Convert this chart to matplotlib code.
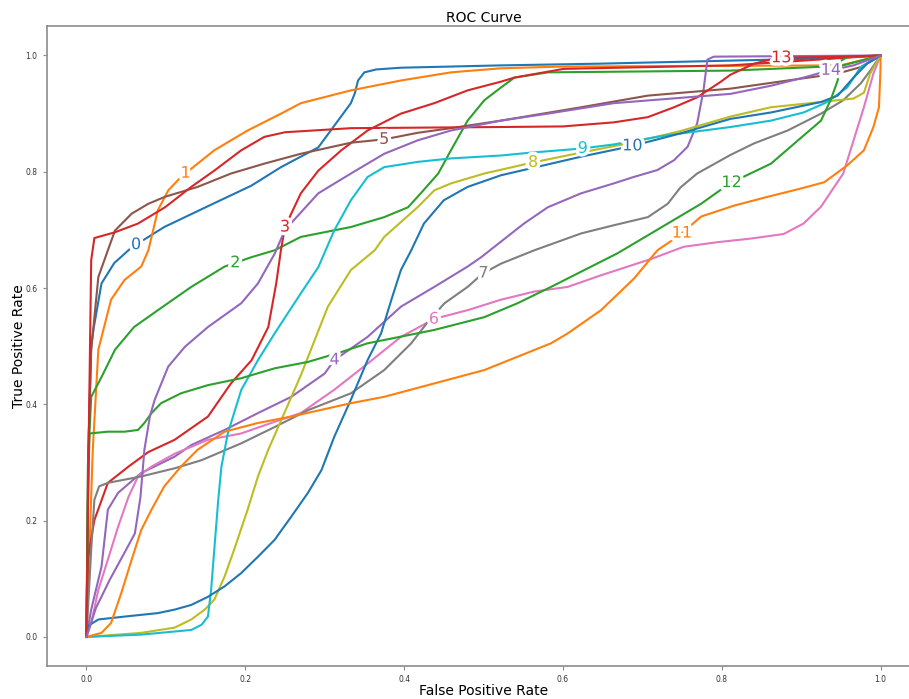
import numpy as np
import matplotlib
matplotlib.use("Agg")
import matplotlib.pyplot as plt
import matplotlib.patheffects as pe

# ROC curves (false positive rate, true positive rate) for classes 0..14
fpr_0 = [0, 0.003, 0.006, 0.009, 0.019, 0.035, 0.057, 0.098, 0.161, 0.2075, 0.245, 0.292, 0.333, 0.338, 0.342, 0.350, 0.365, 0.396, 0.522, 0.648, 0.9, 1.0]
tpr_0 = [0, 0.35, 0.50, 0.53, 0.608, 0.643, 0.670, 0.705, 0.746, 0.776, 0.808, 0.842, 0.918, 0.935, 0.957, 0.971, 0.976, 0.979, 0.983, 0.986, 0.994, 1.0]

fpr_1 = [0, 0.003, 0.008, 0.015, 0.031, 0.048, 0.069, 0.078, 0.090, 0.103, 0.119, 0.161, 0.203, 0.245, 0.270, 0.333, 0.396, 0.459, 0.522, 0.6, 0.95, 1.0]
tpr_1 = [0, 0.12, 0.322, 0.494, 0.580, 0.614, 0.637, 0.665, 0.734, 0.768, 0.791, 0.837, 0.871, 0.900, 0.918, 0.940, 0.957, 0.971, 0.978, 0.981, 0.983, 1.0]

fpr_2 = [0, 0.002, 0.006, 0.019, 0.036, 0.060, 0.090, 0.132, 0.174, 0.2075, 0.237, 0.270, 0.333, 0.375, 0.405, 0.421, 0.443, 0.459, 0.480, 0.501, 0.522, 0.539, 0.581, 0.811, 0.95, 1.0]
tpr_2 = [0, 0.30, 0.413, 0.447, 0.494, 0.533, 0.562, 0.602, 0.637, 0.653, 0.665, 0.688, 0.705, 0.722, 0.739, 0.763, 0.797, 0.837, 0.888, 0.923, 0.945, 0.962, 0.971, 0.974, 0.982, 1.0]

fpr_3 = [0, 0.002, 0.010, 0.027, 0.053, 0.078, 0.111, 0.153, 0.182, 0.208, 0.229, 0.239, 0.245, 0.25, 0.270, 0.292, 0.321, 0.354, 0.396, 0.438, 0.480, 0.522, 0.539, 0.601, 0.811, 1.0]
tpr_3 = [0, 0.137, 0.201, 0.265, 0.293, 0.318, 0.339, 0.379, 0.436, 0.476, 0.533, 0.608, 0.666, 0.705, 0.763, 0.802, 0.837, 0.871, 0.900, 0.918, 0.940, 0.955, 0.962, 0.977, 0.983, 1.0]

fpr_4 = [0, 0.006, 0.019, 0.027, 0.040, 0.069, 0.111, 0.132, 0.174, 0.216, 0.258, 0.3, 0.312, 0.354, 0.396, 0.438, 0.480, 0.497, 0.551, 0.581, 0.623, 0.664, 0.689, 0.719, 0.740, 0.757, 0.769, 0.777, 0.782, 0.79, 1.0]
tpr_4 = [0, 0.047, 0.121, 0.219, 0.248, 0.282, 0.310, 0.330, 0.356, 0.385, 0.413, 0.453, 0.476, 0.516, 0.568, 0.602, 0.637, 0.653, 0.711, 0.739, 0.763, 0.780, 0.791, 0.803, 0.820, 0.843, 0.883, 0.940, 0.993, 0.998, 1.0]

fpr_5 = [0, 0.002, 0.006, 0.015, 0.027, 0.036, 0.057, 0.078, 0.099, 0.140, 0.182, 0.224, 0.270, 0.333, 0.376, 0.417, 0.459, 0.522, 0.623, 0.707, 0.811, 0.883, 0.946, 0.975, 1.0]
tpr_5 = [0, 0.30, 0.493, 0.619, 0.665, 0.699, 0.728, 0.745, 0.757, 0.774, 0.797, 0.814, 0.831, 0.850, 0.856, 0.867, 0.875, 0.888, 0.911, 0.931, 0.943, 0.957, 0.969, 0.980, 1.0]

fpr_6 = [0, 0.006, 0.015, 0.027, 0.040, 0.053, 0.065, 0.082, 0.111, 0.153, 0.195, 0.237, 0.270, 0.312, 0.354, 0.396, 0.438, 0.480, 0.522, 0.564, 0.606, 0.648, 0.711, 0.752, 0.795, 0.836, 0.878, 0.903, 0.925, 0.953, 0.966, 0.979, 0.991, 1.0]
tpr_6 = [0, 0.024, 0.081, 0.133, 0.190, 0.241, 0.276, 0.293, 0.315, 0.339, 0.350, 0.370, 0.385, 0.425, 0.470, 0.516, 0.547, 0.562, 0.580, 0.594, 0.602, 0.622, 0.650, 0.671, 0.679, 0.685, 0.693, 0.711, 0.740, 0.797, 0.854, 0.911, 0.969, 1.0]

fpr_7 = [0, 0.006, 0.010, 0.016, 0.027, 0.069, 0.111, 0.145, 0.195, 0.237, 0.279, 0.333, 0.375, 0.409, 0.430, 0.451, 0.480, 0.499, 0.522, 0.564, 0.623, 0.664, 0.707, 0.732, 0.748, 0.769, 0.811, 0.841, 0.883, 0.925, 0.953, 0.975, 0.987, 1.0]
tpr_7 = [0, 0.150, 0.236, 0.259, 0.265, 0.276, 0.290, 0.304, 0.333, 0.361, 0.390, 0.419, 0.459, 0.505, 0.542, 0.574, 0.602, 0.625, 0.642, 0.665, 0.694, 0.708, 0.722, 0.745, 0.773, 0.797, 0.829, 0.849, 0.871, 0.900, 0.923, 0.952, 0.974, 1.0]

fpr_8 = [0, 0.069, 0.111, 0.132, 0.149, 0.161, 0.174, 0.186, 0.203, 0.216, 0.229, 0.270, 0.304, 0.333, 0.363, 0.375, 0.417, 0.438, 0.459, 0.501, 0.562, 0.623, 0.686, 0.748, 0.811, 0.862, 0.925, 0.966, 0.979, 0.987, 1.0]
tpr_8 = [0, 0.007, 0.016, 0.030, 0.047, 0.064, 0.104, 0.150, 0.219, 0.276, 0.322, 0.450, 0.568, 0.631, 0.665, 0.688, 0.739, 0.768, 0.780, 0.797, 0.816, 0.833, 0.850, 0.870, 0.895, 0.911, 0.920, 0.926, 0.936, 0.969, 1.0]

fpr_9 = [0, 0.069, 0.132, 0.145, 0.153, 0.157, 0.161, 0.166, 0.170, 0.178, 0.195, 0.216, 0.237, 0.270, 0.292, 0.312, 0.333, 0.354, 0.375, 0.417, 0.459, 0.522, 0.560, 0.624, 0.664, 0.727, 0.811, 0.862, 0.903, 0.933, 0.958, 0.975, 1.0]
tpr_9 = [0, 0.004, 0.012, 0.021, 0.035, 0.081, 0.150, 0.236, 0.293, 0.350, 0.425, 0.476, 0.522, 0.591, 0.636, 0.699, 0.751, 0.791, 0.808, 0.817, 0.823, 0.828, 0.833, 0.840, 0.847, 0.862, 0.877, 0.888, 0.902, 0.920, 0.945, 0.980, 1.0]

fpr_10 = [0, 0.002, 0.015, 0.048, 0.090, 0.111, 0.132, 0.153, 0.174, 0.195, 0.216, 0.237, 0.258, 0.279, 0.296, 0.312, 0.333, 0.354, 0.371, 0.384, 0.396, 0.409, 0.425, 0.450, 0.480, 0.522, 0.560, 0.623, 0.686, 0.748, 0.811, 0.862, 0.925, 0.946, 0.966, 0.983, 1.0]
tpr_10 = [0, 0.019, 0.030, 0.035, 0.041, 0.047, 0.055, 0.069, 0.087, 0.110, 0.138, 0.167, 0.207, 0.248, 0.287, 0.344, 0.408, 0.476, 0.522, 0.580, 0.631, 0.665, 0.711, 0.751, 0.774, 0.794, 0.806, 0.826, 0.844, 0.866, 0.891, 0.902, 0.920, 0.931, 0.962, 0.986, 1.0]

fpr_11 = [0, 0.019, 0.031, 0.044, 0.057, 0.069, 0.082, 0.098, 0.119, 0.140, 0.174, 0.216, 0.258, 0.333, 0.375, 0.438, 0.501, 0.543, 0.585, 0.606, 0.648, 0.690, 0.719, 0.747, 0.774, 0.816, 0.858, 0.899, 0.929, 0.958, 0.979, 0.991, 0.998, 1.0, 1.0]
tpr_11 = [0, 0.007, 0.024, 0.076, 0.133, 0.184, 0.219, 0.259, 0.293, 0.322, 0.353, 0.368, 0.379, 0.402, 0.413, 0.436, 0.459, 0.482, 0.505, 0.522, 0.562, 0.617, 0.665, 0.691, 0.723, 0.742, 0.757, 0.771, 0.782, 0.811, 0.837, 0.877, 0.911, 0.980, 1.0]

fpr_12 = [0, 0.002, 0.004, 0.027, 0.048, 0.065, 0.073, 0.082, 0.094, 0.119, 0.153, 0.195, 0.237, 0.279, 0.321, 0.354, 0.438, 0.501, 0.543, 0.585, 0.627, 0.669, 0.690, 0.732, 0.774, 0.809, 0.836, 0.862, 0.896, 0.925, 0.937, 0.946, 0.950, 0.958, 1.0]
tpr_12 = [0, 0.25, 0.350, 0.353, 0.353, 0.356, 0.368, 0.385, 0.402, 0.419, 0.433, 0.445, 0.462, 0.473, 0.490, 0.505, 0.528, 0.550, 0.574, 0.602, 0.631, 0.660, 0.677, 0.711, 0.745, 0.779, 0.797, 0.814, 0.854, 0.888, 0.923, 0.957, 0.991, 0.997, 1.0]

fpr_13 = [0, 0.003, 0.006, 0.010, 0.036, 0.065, 0.099, 0.132, 0.161, 0.195, 0.224, 0.25, 0.333, 0.522, 0.600, 0.664, 0.707, 0.740, 0.769, 0.799, 0.811, 0.841, 0.870, 0.95, 1.0]
tpr_13 = [0, 0.35, 0.648, 0.686, 0.696, 0.711, 0.739, 0.774, 0.802, 0.837, 0.860, 0.868, 0.875, 0.877, 0.878, 0.885, 0.894, 0.911, 0.928, 0.955, 0.967, 0.986, 0.996, 0.998, 1.0]

fpr_14 = [0, 0.012, 0.03, 0.05, 0.061, 0.068, 0.073, 0.080, 0.086, 0.103, 0.124, 0.153, 0.195, 0.216, 0.237, 0.25, 0.292, 0.333, 0.375, 0.417, 0.459, 0.522, 0.581, 0.664, 0.811, 0.862, 0.903, 0.932, 0.966, 1.0]
tpr_14 = [0, 0.05, 0.10, 0.15, 0.178, 0.24, 0.322, 0.38, 0.408, 0.465, 0.499, 0.533, 0.574, 0.608, 0.659, 0.700, 0.763, 0.797, 0.831, 0.854, 0.871, 0.888, 0.900, 0.918, 0.934, 0.948, 0.962, 0.973, 0.983, 1.0]

class_ids = list(range(15))
fprs = [fpr_0, fpr_1, fpr_2, fpr_3, fpr_4, fpr_5, fpr_6, fpr_7,
        fpr_8, fpr_9, fpr_10, fpr_11, fpr_12, fpr_13, fpr_14]
tprs = [tpr_0, tpr_1, tpr_2, tpr_3, tpr_4, tpr_5, tpr_6, tpr_7,
        tpr_8, tpr_9, tpr_10, tpr_11, tpr_12, tpr_13, tpr_14]

colors = plt.rcParams['axes.prop_cycle'].by_key()['color']

fig = plt.figure(figsize=(9.09, 6.99), dpi=100)
ax = fig.add_axes([0.0514, 0.0472, 0.961, 0.915])

lines = []
for k, fx, ty in zip(class_ids, fprs, tprs):
    ln, = ax.plot(fx, ty, color=colors[k % len(colors)], lw=1.5, label=str(k))
    lines.append(ln)

ax.set_xlim(-0.05, 1.05)
ax.set_ylim(-0.05, 1.05)

# inline labels spread evenly along the x range
label_x = np.linspace(0, 1, len(class_ids) + 2)[1:-1]
for ln, k, fx, ty, lx in zip(lines, class_ids, fprs, tprs, label_x):
    ly = np.interp(lx, fx, ty)
    ax.text(lx, ly, str(k), color=ln.get_color(), fontsize=11.5,
            ha='center', va='center', zorder=5,
            path_effects=[pe.withStroke(linewidth=5, foreground='white')])

for side in ['left', 'bottom', 'top']:
    ax.spines[side].set_color('#8c8c8c')
    ax.spines[side].set_linewidth(1.2)
ax.spines['right'].set_visible(False)

ax.set_xticks([0.0, 0.2, 0.4, 0.6, 0.8, 1.0])
ax.set_yticks([0.0, 0.2, 0.4, 0.6, 0.8, 1.0])
ax.tick_params(labelsize=5.5, colors='#8c8c8c', labelcolor='#333333', length=3, width=0.8)

ax.set_title('ROC Curve', fontsize=10, pad=3)
ax.set_xlabel('False Positive Rate', fontsize=10, labelpad=0)
ax.set_ylabel('True Positive Rate', fontsize=10, labelpad=0)

fig.savefig('out.png', dpi=100)
